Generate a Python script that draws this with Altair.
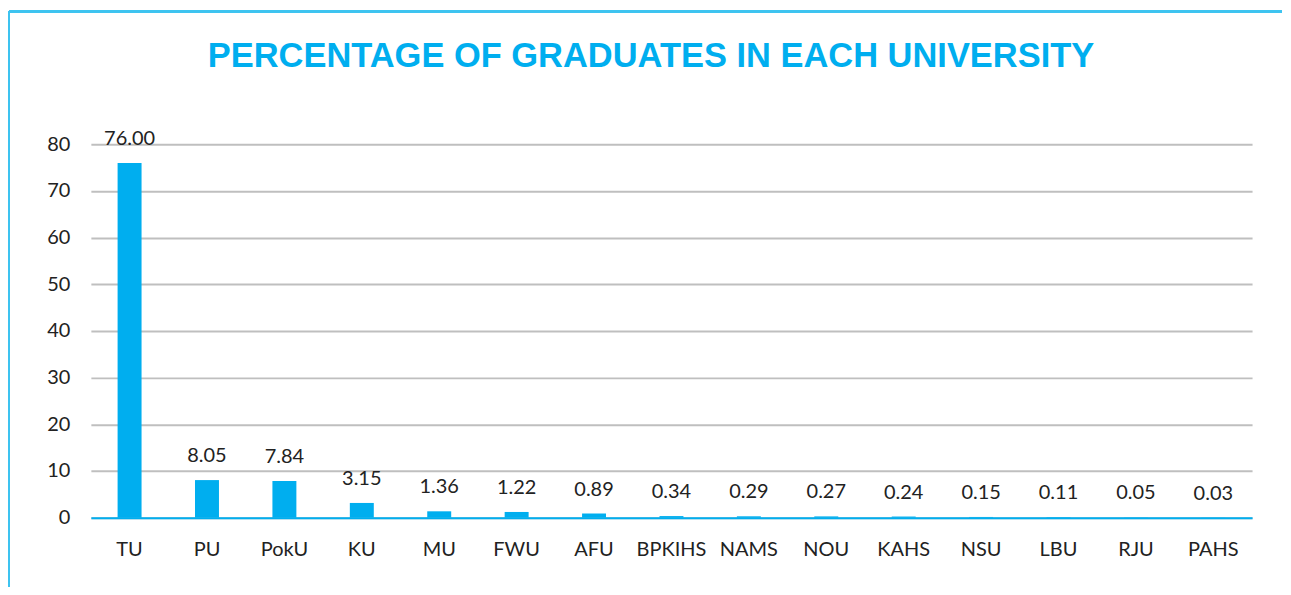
import altair as alt
import pandas as pd

universities = ["TU", "PU", "PokU", "KU", "MU", "FWU", "AFU", "BPKIHS", "NAMS",
                "NOU", "KAHS", "NSU", "LBU", "RJU", "PAHS"]
percentages = [76.00, 8.05, 7.84, 3.15, 1.36, 1.22, 0.89, 0.34, 0.29,
               0.27, 0.24, 0.15, 0.11, 0.05, 0.03]
title_text = "PERCENTAGE OF GRADUATES IN EACH UNIVERSITY"

df = pd.DataFrame({"University": universities, "Percent": percentages})
df["Label"] = [f"{v:.2f}" for v in percentages]

BLUE = "#00AEEF"
W, H = 1163, 374

x = alt.X("University:N", sort=universities, title=None,
          scale=alt.Scale(paddingInner=0.69, paddingOuter=0.345),
          axis=alt.Axis(labelAngle=0, ticks=False, domain=True, domainColor=BLUE,
                        domainWidth=2, labelPadding=22, labelFontSize=20,
                        labelFont="Lato", labelColor="#222222", grid=False))
y = alt.Y("Percent:Q", title=None,
          scale=alt.Scale(domain=[0, 80]),
          axis=alt.Axis(values=[0, 10, 20, 30, 40, 50, 60, 70, 80], domain=False,
                        ticks=False, labelPadding=21, labelFontSize=20,
                        labelFont="Lato", labelColor="#222222",
                        gridColor="#BFBFBF", gridWidth=2,
                        minExtent=82, maxExtent=82))

bars = alt.Chart(df).mark_bar(size=24, color=BLUE).encode(x=x, y=y)
labels = alt.Chart(df).mark_text(dy=-18, baseline="alphabetic", fontSize=20,
                                 font="Lato", color="#222222").encode(
    x=alt.X("University:N", sort=universities),
    y="Percent:Q", text="Label:N")

frame_top = alt.Chart(df).mark_rule(color="#3EC3F0", strokeWidth=2).encode(
    x=alt.value(-82), x2=alt.value(W + 30), y=alt.value(-133))
frame_left = alt.Chart(df).mark_rule(color="#3EC3F0", strokeWidth=2).encode(
    x=alt.value(-82), y=alt.value(-133), y2=alt.value(H + 69))

title = alt.Chart(pd.DataFrame({"t": [title_text]})).mark_text(
    font="Liberation Sans", fontSize=34.5, fontWeight="bold", color=BLUE,
    align="center", baseline="alphabetic").encode(
    x=alt.value(561), y=alt.value(-77), text="t:N")

chart = alt.layer(frame_top, frame_left, bars, labels, title).properties(
    width=W, height=H,
    padding={"left": 0, "top": 2, "right": 0, "bottom": 0},
).configure_view(stroke=None).configure_axis(labelFont="Lato")

chart.save("out.html", embed_options={"renderer": "svg", "actions": False})
